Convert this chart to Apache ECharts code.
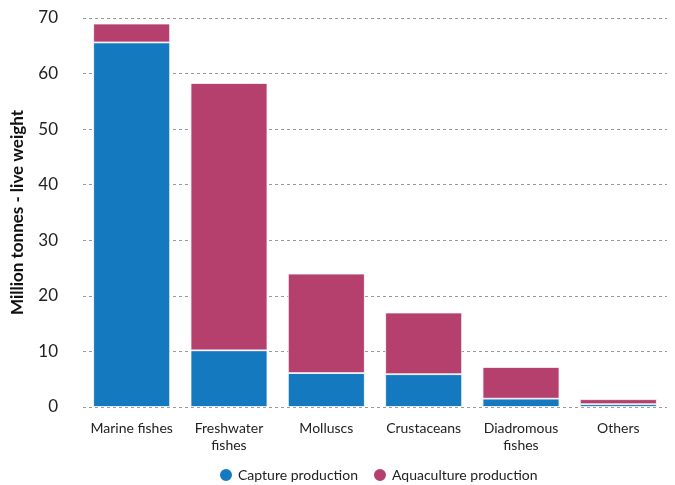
<!DOCTYPE html>
<html>
<head>
<meta charset="utf-8">
<script src="https://cdn.jsdelivr.net/npm/echarts@6/dist/echarts.min.js"></script>
<style>
  html, body { margin: 0; padding: 0; background: #fff; }
  #chart { width: 675px; height: 485px; }
</style>
</head>
<body>
<div id="chart"></div>
<script>
// values in million tonnes
const categories = ['Marine fishes', 'Freshwater\nfishes', 'Molluscs', 'Crustaceans', 'Diadromous\nfishes', 'Others']
const capture = [65.6, 10.2, 6.1, 5.9, 1.5, 0.5]
const aquaculture = [3.4, 48.1, 17.9, 11.1, 5.7, 0.9]
const yTicks = [0, 10, 20, 30, 40, 50, 60, 70]

const chart = echarts.init(document.getElementById('chart'))
const font = 'Lato, "DejaVu Sans", sans-serif'

const option = {
  animation: false,
  textStyle: { fontFamily: font },
  color: ['#1479be', '#b5406e'],
  legend: {
    bottom: 2,
    left: 218,
    padding: 0,
    icon: 'circle',
    itemWidth: 14,
    itemHeight: 14,
    itemGap: 14,
    textStyle: { fontSize: 14, color: '#222', fontFamily: font },
    data: ['Capture production', 'Aquaculture production'],
  },
  grid: {
    left: 83,
    right: 8,
    top: 18,
    bottom: 78,
  },
  xAxis: {
    type: 'category',
    data: categories,
    axisLine: { show: false },
    axisTick: { show: false },
    axisLabel: {
      color: '#222',
      fontSize: 14,
      margin: 13,
      lineHeight: 17,
      interval: 0,
    },
  },
  yAxis: {
    type: 'value',
    min: yTicks[0],
    max: yTicks[yTicks.length - 1],
    interval: 10,
    name: 'Million tonnes - live weight',
    nameLocation: 'middle',
    nameGap: 57,
    nameTextStyle: { fontSize: 17, fontWeight: 'bold', color: '#111' },
    axisLine: { show: false },
    axisTick: { show: false },
    axisLabel: { color: '#222', fontSize: 17, margin: 25 },
    splitLine: {
      lineStyle: { color: '#999', type: [3, 3], width: 1 },
    },
  },
  series: [
    {
      name: 'Capture production',
      type: 'bar',
      stack: 'total',
      barWidth: '79%',
      data: capture,
      itemStyle: { borderColor: '#fff', borderWidth: 0.8 },
    },
    {
      name: 'Aquaculture production',
      type: 'bar',
      stack: 'total',
      barWidth: '79%',
      data: aquaculture,
      itemStyle: { borderColor: '#fff', borderWidth: 0.8 },
    },
  ],
}
chart.setOption(option)
</script>
</body>
</html>
